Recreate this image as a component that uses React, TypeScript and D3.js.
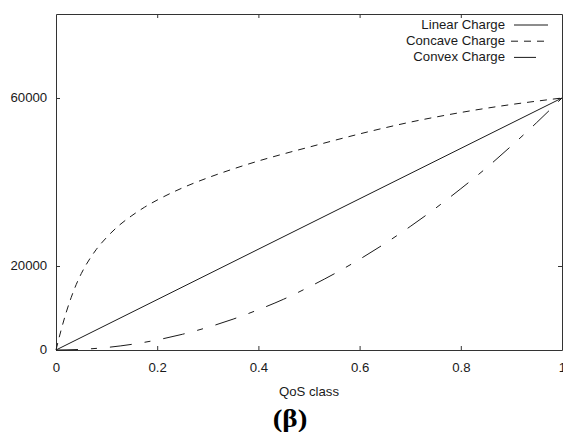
import React, { useEffect, useRef } from "react";
import * as d3 from "d3";

// QoS class samples and charge values
const linearX = [0, 1];
const linearY = [0, 60000];

const concaveX = [0, 0.01, 0.02, 0.03, 0.04, 0.05, 0.06, 0.07, 0.08, 0.1, 0.125, 0.15, 0.175, 0.2, 0.25, 0.3, 0.35, 0.4, 0.45, 0.5, 0.55, 0.6, 0.65, 0.7, 0.75, 0.8, 0.85, 0.9, 0.95, 1];
const concaveY = [0, 4700, 8900, 12500, 15600, 18200, 20400, 22300, 24000, 26800, 29700, 32000, 34000, 35700, 38600, 41000, 43100, 45000, 46700, 48300, 49900, 51450, 52900, 54250, 55450, 56550, 57550, 58450, 59250, 60000];

const convexX = [0, 0.05, 0.1, 0.15, 0.2, 0.25, 0.3, 0.35, 0.4, 0.45, 0.5, 0.55, 0.6, 0.65, 0.7, 0.75, 0.8, 0.85, 0.9, 0.95, 1];
const convexY = [0, 150, 600, 1350, 2400, 3750, 5400, 7350, 9600, 12100, 15000, 18150, 21600, 25350, 29400, 33750, 38400, 43300, 48600, 54150, 60000];

const xTicks = [0, 0.2, 0.4, 0.6, 0.8, 1];
const yTicks = [0, 20000, 60000];

const seriesNames = ["Linear Charge", "Concave Charge", "Convex Charge"];
const dashes = ["none", "7,6", "22,13,6,13"];

const W = 563;
const H = 432;
const FONT = "'Liberation Sans', Arial, Helvetica, sans-serif";
const INK = "#1a1a1a";

export default function App() {
  const ref = useRef<SVGSVGElement>(null);

  useEffect(() => {
    const svg = d3.select(ref.current);
    svg.selectAll("*").remove();

    const left = 56, right = 562, top = 14, bottom = 350;
    const x = d3.scaleLinear().domain([0, 1]).range([left, right]);
    const y = d3.scaleLinear().domain([0, 80000]).range([bottom, top]);

    const styleAxis = (g: any) => {
      g.selectAll("path, line").attr("stroke", "#333").attr("stroke-width", 1);
      g.selectAll("text")
        .attr("fill", INK)
        .style("font-family", FONT)
        .style("font-size", "12px")
        .attr("transform", "scale(1.1,1)");
    };

    svg.append("g")
      .attr("transform", `translate(0,${bottom})`)
      .call(d3.axisBottom(x).tickValues(xTicks).tickSize(-4).tickSizeOuter(0).tickPadding(13.5).tickFormat((d: any) => String(d)))
      .call(styleAxis);
    svg.append("g")
      .attr("transform", `translate(0,${top})`)
      .call(d3.axisTop(x).tickValues(xTicks.slice(1, -1)).tickSize(-4).tickSizeOuter(0).tickFormat(() => ""))
      .call(styleAxis);
    svg.append("g")
      .attr("transform", `translate(${left},0)`)
      .call(d3.axisLeft(y).tickValues(yTicks).tickSize(-4).tickSizeOuter(0).tickPadding(8).tickFormat((d: any) => String(d)))
      .call(styleAxis);
    svg.append("g")
      .attr("transform", `translate(${right},0)`)
      .call(d3.axisRight(y).tickValues(yTicks.slice(1)).tickSize(-4).tickSizeOuter(0).tickFormat(() => ""))
      .call(styleAxis);

    const line = d3.line<[number, number]>()
      .x((d) => x(d[0]))
      .y((d) => y(d[1]))
      .curve(d3.curveMonotoneX);

    const series: [number, number][][] = [
      linearX.map((v, i) => [v, linearY[i]]),
      concaveX.map((v, i) => [v, concaveY[i]]),
      convexX.map((v, i) => [v, convexY[i]]),
    ];

    svg.append("g")
      .selectAll("path")
      .data(series)
      .join("path")
      .attr("d", (d) => line(d))
      .attr("fill", "none")
      .attr("stroke", INK)
      .attr("stroke-width", 1)
      .attr("stroke-dasharray", (_, i) => dashes[i]);

    // legend
    const lg = svg.append("g");
    seriesNames.forEach((name, i) => {
      const cy = 25 + i * 16.2;
      lg.append("text")
        .attr("transform", `translate(505,${cy + 4}) scale(1.1,1)`)
        .attr("text-anchor", "end")
        .attr("fill", INK)
        .style("font-family", FONT)
        .style("font-size", "12px")
        .text(name);
      lg.append("line")
        .attr("x1", i === 1 ? 511 : 514)
        .attr("x2", 548)
        .attr("y1", cy)
        .attr("y2", cy)
        .attr("stroke", INK)
        .attr("stroke-width", 1)
        .attr("stroke-dasharray", dashes[i]);
    });

    svg.append("text")
      .attr("transform", `translate(${(left + right) / 2},396) scale(1.1,1)`)
      .attr("text-anchor", "middle")
      .attr("fill", INK)
      .style("font-family", FONT)
      .style("font-size", "12px")
      .text("QoS class");

    svg.append("text")
      .attr("transform", "translate(290,427) scale(1.12,1)")
      .attr("text-anchor", "middle")
      .attr("fill", "#000")
      .style("font-family", "'Liberation Serif', 'Times New Roman', serif")
      .style("font-weight", "bold")
      .style("font-size", "26px")
      .text("(β)");
  }, []);

  return (
    <svg
      ref={ref}
      width={W}
      height={H}
      style={{ position: "absolute", left: 0, top: 0, background: "#fff" }}
    />
  );
}
